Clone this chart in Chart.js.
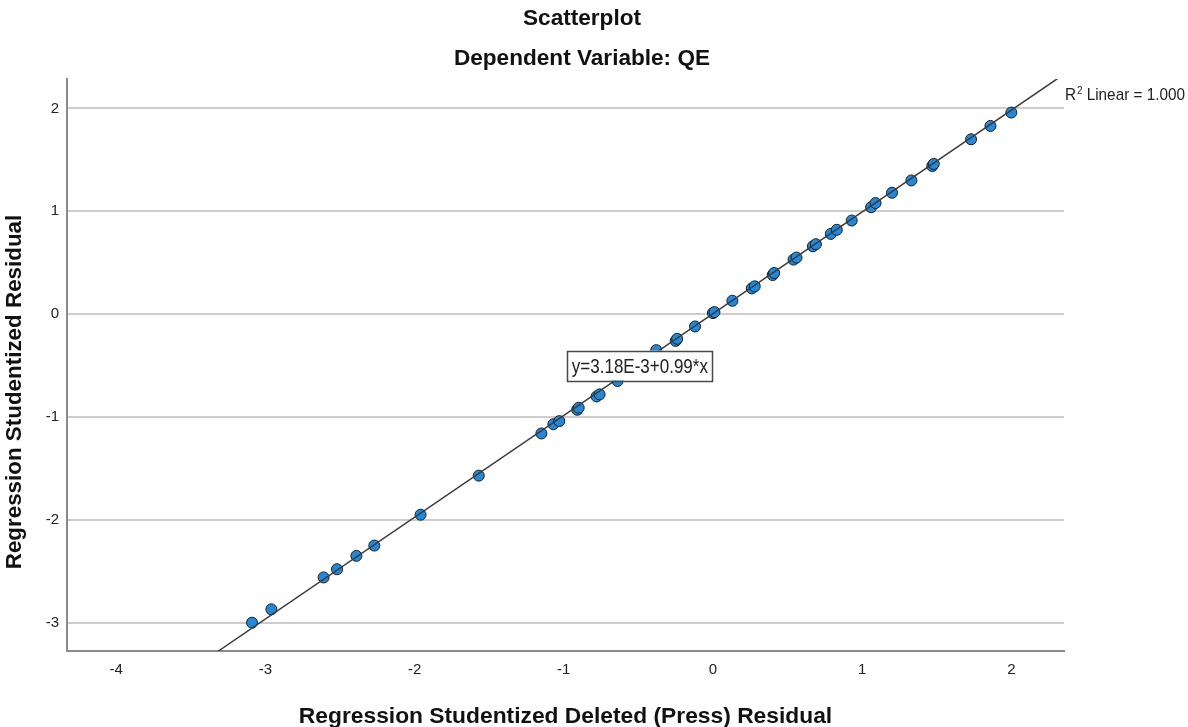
<!DOCTYPE html>
<html>
<head>
<meta charset="utf-8">
<script src="https://cdn.jsdelivr.net/npm/chart.js@4.4.1/dist/chart.umd.min.js"></script>
<style>
html,body{margin:0;padding:0;background:#ffffff;}
#wrap{width:1188px;height:727px;position:relative;}
</style>
</head>
<body>
<div id="wrap"><canvas id="c" width="1188" height="727"></canvas></div>
<script>
// ---- texts ----
const chartTitle = 'Scatterplot';
const chartSubtitle = 'Dependent Variable: QE';
const xAxisTitle = 'Regression Studentized Deleted (Press) Residual';
const yAxisTitle = 'Regression Studentized Residual';
const fitEquation = 'y=3.18E-3+0.99*x';
const rSquaredLabel = ['R', '2', ' Linear = 1.000'];

// ---- ticks ----
const xTickValues = [-4, -3, -2, -1, 0, 1, 2];
const yTickValues = [-3, -2, -1, 0, 1, 2];

// ---- data ----
const deletedResidual = [
  -3.09, -2.96, -2.61, -2.52, -2.39, -2.27, -1.96, -1.57, -1.15, -1.07,
  -1.03, -0.91, -0.90, -0.78, -0.76, -0.64, -0.38, -0.25, -0.24, -0.12,
   0.00,  0.01,  0.13,  0.26,  0.28,  0.40,  0.41,  0.54,  0.56,  0.67,
   0.69,  0.79,  0.83,  0.93,  1.06,  1.09,  1.20,  1.33,  1.47,  1.48,
   1.73,  1.86,  2.00
];
const studentizedResidual = [
  -3.00, -2.87, -2.56, -2.48, -2.35, -2.25, -1.95, -1.57, -1.16, -1.07,
  -1.04, -0.93, -0.91, -0.80, -0.78, -0.65, -0.35, -0.26, -0.24, -0.12,
   0.01,  0.02,  0.13,  0.25,  0.27,  0.38,  0.40,  0.53,  0.55,  0.66,
   0.68,  0.78,  0.82,  0.91,  1.04,  1.08,  1.18,  1.30,  1.44,  1.46,
   1.70,  1.83,  1.96
];
// fitted line end points
const fitLineX = [-3.32, 2.31];
const fitLineY = [-3.28, 2.29];

const FONT = "'Liberation Sans', Arial, Helvetica, sans-serif";

const decor = {
  id: 'decor',
  afterDatasetsDraw(chart) {
    const ctx = chart.ctx;
    const xs = chart.scales.x, ys = chart.scales.y;
    // equation label box, anchored in data space near the line
    const cx = xs.getPixelForValue(-0.49);
    const cy = ys.getPixelForValue(-0.50);
    const w = 145, h = 30;
    ctx.save();
    ctx.fillStyle = '#ffffff';
    ctx.fillRect(cx - w / 2, cy - h / 2, w, h);
    ctx.strokeStyle = '#4a4a4a';
    ctx.lineWidth = 1.5;
    ctx.strokeRect(Math.round(cx - w / 2) + 0.5, Math.round(cy - h / 2) + 0.5, w, h);
    ctx.fillStyle = '#222222';
    ctx.font = '20px ' + FONT;
    ctx.textAlign = 'center';
    ctx.textBaseline = 'alphabetic';
    ctx.translate(cx, cy + 7.5);
    ctx.scale(0.85, 1);
    ctx.fillText(fitEquation, 0, 0);
    ctx.restore();
  },
  afterDraw(chart) {
    const ctx = chart.ctx;
    ctx.save();
    ctx.fillStyle = '#111111';
    ctx.textAlign = 'center';
    ctx.textBaseline = 'alphabetic';
    ctx.font = 'bold 22.6px ' + FONT;
    ctx.fillText(chartTitle, 582, 25);
    ctx.fillText(chartSubtitle, 582, 65);

    ctx.font = 'bold 22.8px ' + FONT;
    const ca = chart.chartArea;
    ctx.fillText(xAxisTitle, (ca.left + ca.right) / 2, 723);

    ctx.save();
    ctx.font = 'bold 22.4px ' + FONT;
    ctx.translate(21, 392);
    ctx.rotate(-Math.PI / 2);
    ctx.fillText(yAxisTitle, 0, 0);
    ctx.restore();

    // R² label
    ctx.fillStyle = '#222222';
    ctx.textAlign = 'left';
    ctx.save();
    ctx.translate(1065, 100);
    ctx.scale(0.9, 1);
    ctx.font = '17px ' + FONT;
    ctx.fillText(rSquaredLabel[0], 0, 0);
    let x = ctx.measureText(rSquaredLabel[0]).width + 1;
    ctx.font = '11px ' + FONT;
    ctx.fillText(rSquaredLabel[1], x, -6);
    x += ctx.measureText(rSquaredLabel[1]).width;
    ctx.font = '17px ' + FONT;
    ctx.fillText(rSquaredLabel[2], x, 0);
    ctx.restore();
    ctx.restore();
  }
};

const tickFont = { family: FONT, size: 15 };

new Chart(document.getElementById('c'), {
  type: 'scatter',
  data: {
    datasets: [
      {
        type: 'line',
        label: 'Linear fit',
        data: fitLineX.map((x, i) => ({ x: x, y: fitLineY[i] })),
        borderColor: '#3a3a3a',
        borderWidth: 1.5,
        pointRadius: 0,
        fill: false,
        order: 0
      },
      {
        label: 'Residuals',
        data: deletedResidual.map((x, i) => ({ x: x, y: studentizedResidual[i] })),
        backgroundColor: '#2189dc',
        borderColor: '#1c1c1c',
        borderWidth: 1,
        pointRadius: 5.5,
        pointHoverRadius: 5.5,
        order: 1
      }
    ]
  },
  options: {
    responsive: false,
    animation: false,
    devicePixelRatio: 1,
    events: [],
    layout: { padding: { top: 79, right: 124, bottom: 0, left: 0 } },
    plugins: {
      legend: { display: false },
      tooltip: { enabled: false },
      title: { display: false }
    },
    scales: {
      x: {
        type: 'linear',
        min: -4.33,
        max: 2.353,
        afterBuildTicks: s => { s.ticks = xTickValues.map(v => ({ value: v })); },
        afterFit: s => { s.height = 76; },
        ticks: { font: tickFont, color: '#222222', padding: 10, maxRotation: 0 },
        grid: { display: false, drawTicks: false },
        border: { display: true, color: '#8a8a8a', width: 2 }
      },
      y: {
        type: 'linear',
        min: -3.275,
        max: 2.286,
        afterBuildTicks: s => { s.ticks = yTickValues.map(v => ({ value: v })); },
        afterFit: s => { s.width = 67; },
        ticks: { font: tickFont, color: '#222222', padding: 8 },
        grid: { color: '#cdcdcd', lineWidth: 2, drawTicks: false },
        border: { display: true, color: '#8a8a8a', width: 2 }
      }
    }
  },
  plugins: [decor]
});
</script>
</body>
</html>
